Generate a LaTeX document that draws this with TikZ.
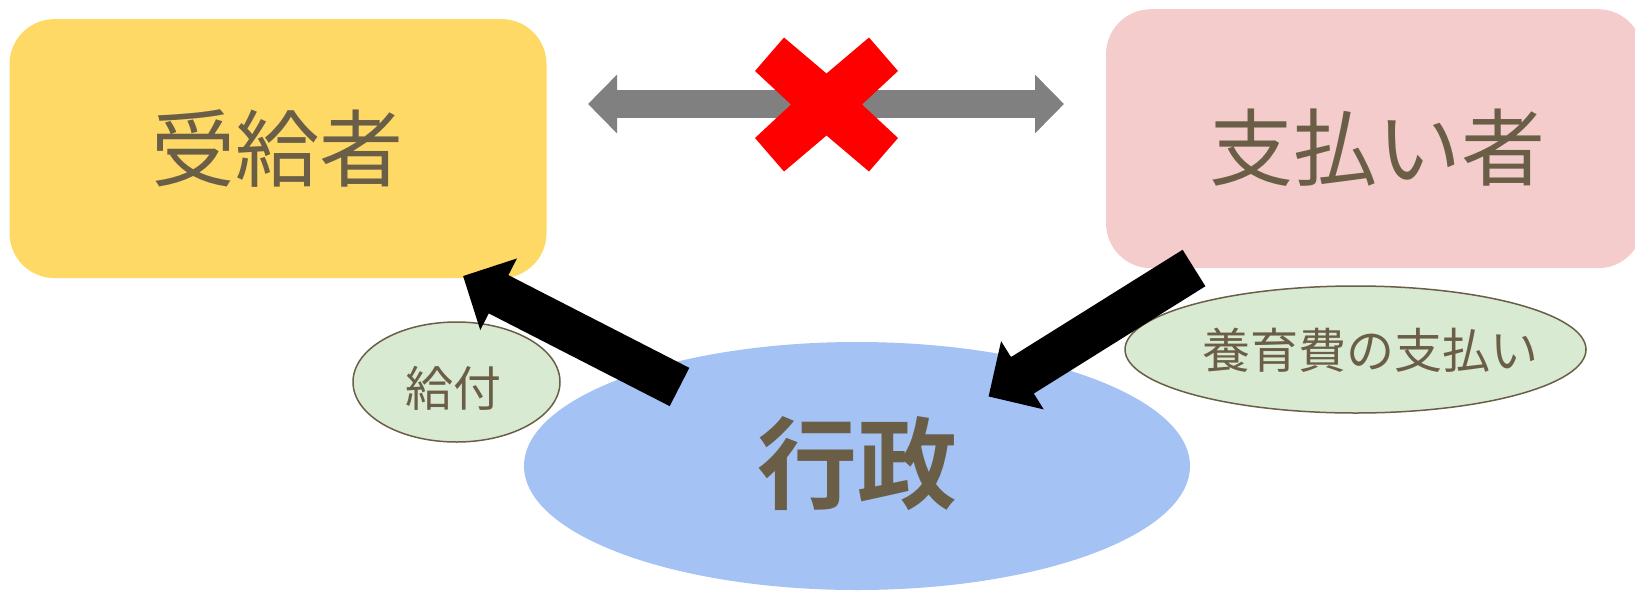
\documentclass[tikz,border=0pt]{standalone}
\usepackage{fontspec}
\setmainfont{Noto Sans CJK JP}[BoldFont={Noto Sans CJK JP Bold}]
\usetikzlibrary{shapes.geometric,arrows.meta}
\definecolor{txt}{HTML}{6B5E46}
\definecolor{yel}{HTML}{FFD966}
\definecolor{pnk}{HTML}{F4CCCC}
\definecolor{blu}{HTML}{A4C2F4}
\definecolor{grn}{HTML}{D9EAD3}
\definecolor{gry}{HTML}{808080}
\begin{document}
\begin{tikzpicture}[x=1pt,y=-1pt,
  box/.style={rounded corners=45pt, minimum width=537pt, minimum height=259pt, inner sep=0pt},
  oval/.style={ellipse, inner sep=0pt},
  bigtxt/.style={text=txt, inner sep=0pt, font=\fontsize{84}{90}\selectfont},
  lbl/.style={text=txt, inner sep=0pt, font=\fontsize{48}{54}\selectfont},
  tag/.style={oval, fill=grn, draw=txt, line width=1.5pt},
  flow/.style={line width=43pt, -{Triangle[length=40pt,width=78pt]}},
  dbl/.style={draw=gry, line width=28pt, {Triangle[length=29pt,width=57pt]}-{Triangle[length=29pt,width=57pt]}}]
\useasboundingbox (0,0) rectangle (1635,590);
% boxes
\node[box, fill=yel] (recv) at (278,148.6) {};
\node[box, fill=pnk] (payer) at (1374.5,138.7) {};
\node[bigtxt] (recvT) at (277,148) {受給者};
\node[bigtxt] (payerT) at (1377,148) {支払い者};
% government
\node[oval, fill=blu, minimum width=666pt, minimum height=248pt] (gov) at (857,466) {};
\node[text=txt, inner sep=0pt, font=\fontsize{100}{110}\selectfont\bfseries] (govT) at (857,464) {行政};
% tags
\node[tag, minimum width=207pt, minimum height=120pt] (kyu) at (456.5,382) {};
\node[lbl] (kyuT) at (453,388) {給付};
\node[tag, minimum width=461pt, minimum height=127pt] (yo) at (1355.5,349.5) {};
\node[lbl] (yoT) at (1370,350) {養育費の支払い};
% black arrows
\coordinate (k1) at (679.5,387);
\coordinate (k2) at (463,276);
\draw[flow] (k1) -- (k2);
\coordinate (y1) at (1194,268);
\coordinate (y2) at (988.5,396.5);
\draw[flow] (y1) -- (y2);
% grey double arrow
\coordinate (gL) at (588,104);
\coordinate (gR) at (1064,104);
\draw[dbl] (gL) -- (gR);
% red cross
\fill[red] (826.5,104.5) ++(-71.5,-33.5) -- ++(29,-33.5) -- ++(42.5,36) -- ++(42.5,-36) -- ++(29,33.5) -- ++(-36,33.5) -- ++(36,33.5) -- ++(-29,33.5) -- ++(-42.5,-36) -- ++(-42.5,36) -- ++(-29,-33.5) -- ++(36,-33.5) -- cycle;
\end{tikzpicture}
\end{document}
